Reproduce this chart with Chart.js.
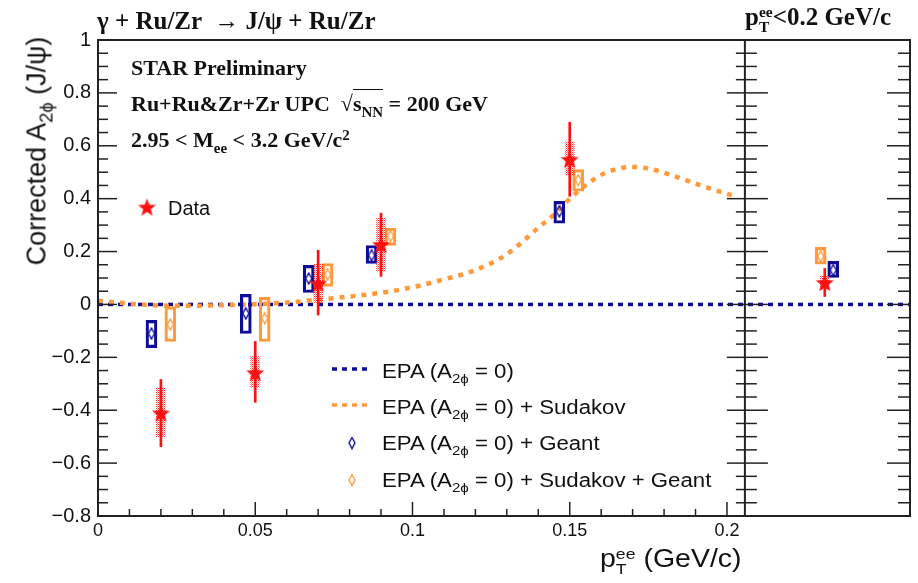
<!DOCTYPE html>
<html>
<head>
<meta charset="utf-8">
<script src="https://cdn.jsdelivr.net/npm/chart.js@4.4.1/dist/chart.umd.min.js"></script>
<style>
  body { margin: 0; background: #fff; }
  #wrap { position: relative; width: 918px; height: 583px; overflow: hidden; }
  #chart { position: absolute; left: 0; top: 0; }
  .txt { position: absolute; white-space: nowrap; line-height: 1; color: #111; transform-origin: 0 0; }
  .serif { font-family: "Liberation Serif", "Times New Roman", serif; font-weight: bold; }
  .sans { font-family: "Liberation Sans", Arial, sans-serif; }
  .lo { font-size: 68%; position: relative; top: 0.38em; }
  .hi { font-size: 68%; position: relative; top: -0.45em; }
  .stack { display: inline-block; font-size: 62%; line-height: 0.95; vertical-align: -0.45em; }
  .stack span { display: block; }
  .root { border-top: 1.5px solid #111; padding-top: 1px; }
  .leg { font-size: 20px; transform: scaleX(1.11); }
</style>
</head>
<body>
<div id="wrap">
  <canvas id="chart" width="918" height="583"></canvas>

  <div class="txt serif" style="left:97px;top:8px;font-size:25px">γ + Ru/Zr &nbsp;→ J/ψ + Ru/Zr</div>
  <div class="txt serif" style="left:745px;top:4px;font-size:25px">p<span class="stack"><span>ee</span><span>T</span></span>&lt;0.2 GeV/c</div>
  <div class="txt serif" style="left:131px;top:57px;font-size:22px">STAR Preliminary</div>
  <div class="txt serif" style="left:131px;top:93px;font-size:22px">Ru+Ru&amp;Zr+Zr UPC &nbsp;√<span class="root">s<span class="lo">NN</span></span> = 200 GeV</div>
  <div class="txt serif" style="left:131px;top:129px;font-size:22px">2.95 &lt; M<span class="lo">ee</span> &lt; 3.2 GeV/c<span class="hi">2</span></div>

  <div class="txt sans" style="left:168px;top:198px;font-size:20px">Data</div>
  <div class="txt sans leg" style="left:382px;top:361px">EPA (A<span class="lo">2ϕ</span> = 0)</div>
  <div class="txt sans leg" style="left:382px;top:397px">EPA (A<span class="lo">2ϕ</span> = 0) + Sudakov</div>
  <div class="txt sans leg" style="left:382px;top:433px">EPA (A<span class="lo">2ϕ</span> = 0) + Geant</div>
  <div class="txt sans leg" style="left:382px;top:470px">EPA (A<span class="lo">2ϕ</span> = 0) + Sudakov + Geant</div>

  <div class="txt sans" style="left:37px;top:151px;font-size:27px;transform-origin:50% 50%;transform:translate(-50%,-50%) rotate(-90deg)">Corrected A<span class="lo">2ϕ</span> (J/ψ)</div>
  <div class="txt sans" style="left:600px;top:546px;font-size:25px;transform:scaleX(1.14)">p<span class="stack"><span>ee</span><span>T</span></span> (GeV/c)</div>
</div>

<script>
// pT bins (GeV/c)
const ptBins = [0.02, 0.05, 0.07, 0.09, 0.15];
const dataA2phi = [-0.41, -0.258, 0.08, 0.227, 0.549];
const dataStatLo = [-0.538, -0.37, -0.04, 0.106, 0.409];
const dataStatHi = [-0.284, -0.14, 0.205, 0.345, 0.689];
const dataSysLo = [-0.5, -0.314, 0.008, 0.125, 0.489];
const dataSysHi = [-0.314, -0.197, 0.152, 0.326, 0.614];

// EPA (A2phi = 0) + Geant
const geantX = [0.017, 0.047, 0.067, 0.087, 0.1467];
const geantA2phi = [-0.11, -0.034, 0.098, 0.186, 0.352];
const geantLo = [-0.163, -0.11, 0.045, 0.155, 0.307];
const geantHi = [-0.06, 0.038, 0.148, 0.223, 0.39];

// EPA (A2phi = 0) + Sudakov + Geant
const sudGeantX = [0.023, 0.053, 0.073, 0.093, 0.1527];
const sudGeantA2phi = [-0.076, -0.053, 0.114, 0.258, 0.47];
const sudGeantLo = [-0.14, -0.14, 0.068, 0.223, 0.428];
const sudGeantHi = [-0.008, 0.027, 0.155, 0.288, 0.51];

// integrated pT < 0.2 GeV/c panel (drawn right of the divider)
const intDataX = 0.2311, intData = 0.083, intStat = [0.03, 0.136], intSys = [0.058, 0.108];
const intGeantX = 0.2338, intGeant = 0.13, intGeantBox = [0.102, 0.163];
const intSudGeantX = 0.2298, intSudGeant = 0.182, intSudGeantBox = [0.152, 0.216];

// EPA + Sudakov curve
const sudakovPt = [0, 0.01, 0.02, 0.03, 0.04, 0.05, 0.06, 0.07, 0.08, 0.09, 0.1, 0.11, 0.12, 0.13, 0.14, 0.145, 0.15, 0.155, 0.16, 0.165, 0.17, 0.175, 0.18, 0.185, 0.19, 0.195, 0.2015];
const sudakovA2phi = [0.014, 0.003, -0.004, -0.005, -0.003, 0.001, 0.007, 0.018, 0.03, 0.044, 0.065, 0.095, 0.13, 0.19, 0.29, 0.34, 0.4, 0.45, 0.49, 0.512, 0.52, 0.514, 0.498, 0.478, 0.457, 0.437, 0.413];

const xMax = 0.2582;       // right edge of the integrated panel
const panelEdge = 0.2057;  // divider between the two panels
const yTicks = [-0.8, -0.6, -0.4, -0.2, 0, 0.2, 0.4, 0.6, 0.8, 1];

const RED = '#ff1010', BLUE = '#0c0c96', ORANGE = '#ff9a3c', DARK = '#222';

function starImage(r, color) {
    const c = document.createElement('canvas');
    const s = Math.ceil(2 * r + 2);
    c.width = c.height = s;
    const g = c.getContext('2d');
    g.fillStyle = color;
    g.beginPath();
    for (let i = 0; i < 10; i++) {
        const rad = i % 2 ? r * 0.42 : r;
        const a = -Math.PI / 2 + i * Math.PI / 5;
        g.lineTo(s / 2 + rad * Math.cos(a), s / 2 + 1 + rad * Math.sin(a));
    }
    g.closePath();
    g.fill();
    return c;
}

function diamondImage(w, h, color) {
    const c = document.createElement('canvas');
    c.width = w + 2; c.height = h + 2;
    const g = c.getContext('2d');
    g.strokeStyle = color;
    g.lineWidth = 1.4;
    const cx = c.width / 2, cy = c.height / 2;
    g.beginPath();
    g.moveTo(cx, 1); g.lineTo(c.width - 1, cy); g.lineTo(cx, c.height - 1); g.lineTo(1, cy);
    g.closePath();
    g.stroke();
    return c;
}

function hatchPattern() {
    const p = document.createElement('canvas');
    p.width = p.height = 2;
    const g = p.getContext('2d');
    g.fillStyle = 'rgba(255,30,30,0.95)';
    g.fillRect(0, 0, 1, 1);
    g.fillStyle = 'rgba(255,70,70,0.55)';
    g.fillRect(1, 1, 1, 1);
    return document.createElement('canvas').getContext('2d').createPattern(p, 'repeat');
}

const starImg = starImage(9.5, RED);
const blueDiamond = diamondImage(6, 11, BLUE);
const orangeDiamond = diamondImage(6, 11, ORANGE);

const pts = (xs, ys) => xs.map((x, i) => ({ x, y: ys[i] }));
const boxes = (xs, lo, hi) => xs.map((x, i) => ({ x, y: [lo[i], hi[i]] }));

// legend markers + axis frame with inward ticks, ROOT style
const frameTicks = {
    id: 'frameTicks',
    afterDatasetsDraw(chart) {
        const { ctx, chartArea: a, scales: { x, y } } = chart;
        const xd = x.getPixelForValue(panelEdge);
        const seg = (x1, y1, x2, y2) => { ctx.beginPath(); ctx.moveTo(x1, y1); ctx.lineTo(x2, y2); ctx.stroke(); };
        ctx.save();
        ctx.strokeStyle = DARK;
        ctx.lineWidth = 2;
        ctx.strokeRect(a.left, a.top, a.right - a.left, a.bottom - a.top);
        seg(xd, a.top, xd, a.bottom);
        ctx.lineWidth = 1.5;
        for (let i = 0; i <= 36; i++) {
            const py = y.getPixelForValue(-0.8 + i * 0.05);
            const major = i % 4 === 0;
            seg(a.left, py, a.left + (major ? 19 : 10), py);
            seg(xd, py, xd - (major ? 18 : 9), py);
            seg(xd, py, xd + (major ? 23 : 12), py);
            seg(a.right, py, a.right - (major ? 23 : 12), py);
        }
        for (let i = 0; i <= 20; i++) {
            const px = x.getPixelForValue(i * 0.01);
            seg(px, a.bottom, px, a.bottom - (i % 5 === 0 ? 14 : 7));
        }
        // legend samples
        ctx.drawImage(starImg, 147 - starImg.width / 2, 207 - starImg.height / 2);
        ctx.lineWidth = 3.5;
        ctx.setLineDash([5, 5]);
        ctx.strokeStyle = BLUE;
        seg(332, 369, 368, 369);
        ctx.strokeStyle = ORANGE;
        seg(332, 405, 368, 405);
        ctx.setLineDash([]);
        ctx.drawImage(blueDiamond, 352 - blueDiamond.width / 2, 443 - blueDiamond.height / 2);
        ctx.drawImage(orangeDiamond, 352 - orangeDiamond.width / 2, 480 - orangeDiamond.height / 2);
        ctx.restore();
    }
};

const fontFamily = "'Liberation Sans Narrow', 'Liberation Sans', Arial, sans-serif";
const fmt = v => {
    const r = Math.round(v * 100) / 100;
    return r === 0 ? '0' : String(r).replace('-', '\u2212');
};

new Chart(document.getElementById('chart'), {
    type: 'scatter',
    data: {
        datasets: [
            {
                type: 'scatter', label: 'Data', order: 0,
                data: [...pts(ptBins, dataA2phi), { x: intDataX, y: intData }],
                pointStyle: starImg,
            },
            {
                type: 'bar', label: 'stat', order: 1, grouped: false,
                data: [...boxes(ptBins, dataStatLo, dataStatHi), { x: intDataX, y: intStat }],
                backgroundColor: RED, barThickness: 2, borderWidth: 0,
            },
            {
                type: 'bar', label: 'sys', order: 2, grouped: false,
                data: [...boxes(ptBins, dataSysLo, dataSysHi), { x: intDataX, y: intSys }],
                backgroundColor: hatchPattern(), barThickness: 9, borderWidth: 0,
            },
            {
                type: 'scatter', label: 'EPA + Geant', order: 3,
                data: [...pts(geantX, geantA2phi), { x: intGeantX, y: intGeant }],
                pointStyle: blueDiamond,
            },
            {
                type: 'scatter', label: 'EPA + Sudakov + Geant', order: 3,
                data: [...pts(sudGeantX, sudGeantA2phi), { x: intSudGeantX, y: intSudGeant }],
                pointStyle: orangeDiamond,
            },
            {
                type: 'bar', label: 'Geant box', order: 4, grouped: false,
                data: [...boxes(geantX, geantLo, geantHi), { x: intGeantX, y: intGeantBox }],
                backgroundColor: 'rgba(255,255,255,0)', borderColor: BLUE, borderWidth: 2.5,
                borderSkipped: false, barThickness: 11,
            },
            {
                type: 'bar', label: 'Sudakov + Geant box', order: 4, grouped: false,
                data: [...boxes(sudGeantX, sudGeantLo, sudGeantHi), { x: intSudGeantX, y: intSudGeantBox }],
                backgroundColor: 'rgba(255,255,255,0)', borderColor: ORANGE, borderWidth: 2.5,
                borderSkipped: false, barThickness: 11,
            },
            {
                type: 'line', label: 'EPA + Sudakov', order: 5,
                data: pts(sudakovPt, sudakovA2phi),
                borderColor: ORANGE, borderWidth: 4.5, borderDash: [5, 6],
                pointRadius: 0, cubicInterpolationMode: 'monotone', fill: false,
            },
            {
                type: 'line', label: 'EPA', order: 6,
                data: [{ x: 0, y: 0 }, { x: xMax, y: 0 }],
                borderColor: BLUE, borderWidth: 3.5, borderDash: [5, 5],
                pointRadius: 0, fill: false,
            },
        ],
    },
    options: {
        responsive: false,
        animation: false,
        devicePixelRatio: 1,
        layout: { padding: { left: 0, top: 40, right: 8, bottom: 0 } },
        plugins: { legend: { display: false }, tooltip: { enabled: false } },
        scales: {
            x: {
                type: 'linear', min: 0, max: xMax, offset: false,
                grid: { display: false, drawTicks: false }, border: { display: false },
                ticks: {
                    stepSize: 0.05, autoSkip: false, maxRotation: 0, padding: 4,
                    color: '#111', font: { family: fontFamily, size: 18 },
                    callback: v => (v > 0.2001 ? '' : fmt(v)),
                },
                afterFit: s => { s.height = 67; },
            },
            y: {
                type: 'linear', min: -0.8, max: 1,
                grid: { display: false, drawTicks: false }, border: { display: false },
                afterBuildTicks: s => { s.ticks = yTicks.map(value => ({ value })); },
                ticks: { autoSkip: false, padding: 7, color: '#111', font: { family: fontFamily, size: 20 }, callback: fmt },
                afterFit: s => { s.width = 98; },
            },
        },
    },
    plugins: [frameTicks],
});
</script>
</body>
</html>
